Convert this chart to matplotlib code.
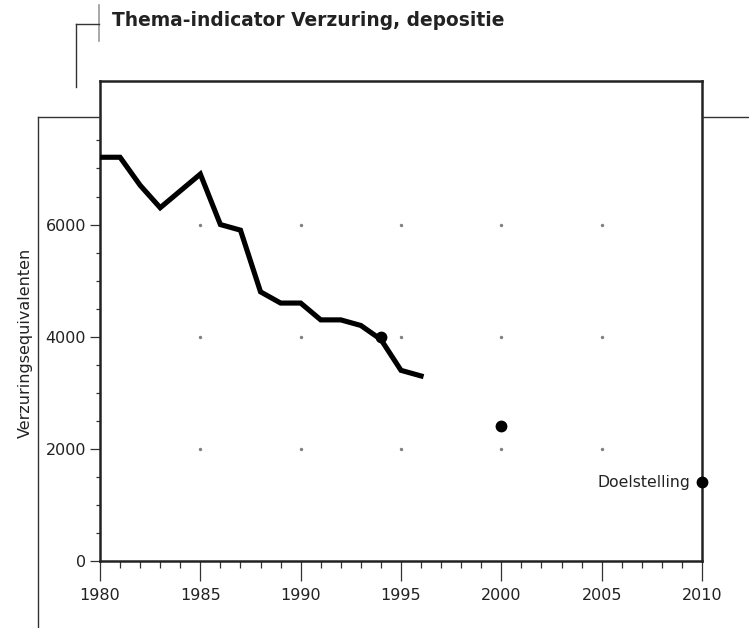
import matplotlib.pyplot as plt
from matplotlib.lines import Line2D
from matplotlib.ticker import MultipleLocator

plt.rcParams['font.family'] = ['DejaVu Sans']

# gemeten depositie
jaren = [1980, 1981, 1982, 1983, 1984, 1985, 1986, 1987, 1988, 1989, 1990,
         1991, 1992, 1993, 1994, 1995, 1996]
depositie = [7200, 7200, 6700, 6300, 6600, 6900, 6000, 5900, 4800, 4600, 4600,
             4300, 4300, 4200, 3950, 3400, 3300]

# losse punten (doelen)
doel_jaren = [1994, 2000, 2010]
doel_waarden = [4000, 2400, 1400]

grid_jaren = [1985, 1990, 1995, 2000, 2005]
grid_niveaus = [2000, 4000, 6000]

x_ticks = [1980, 1985, 1990, 1995, 2000, 2005, 2010]
y_ticks = [0, 2000, 4000, 6000]

W, H = 749, 628
fig = plt.figure(figsize=(W / 100, H / 100), dpi=100)
ax = fig.add_axes([100 / W, (H - 561) / H, 602 / W, 480 / H])


def lijn(xs, ys, kleur='#333333', lw=1.0):
    fig.add_artist(Line2D([x / W for x in xs], [1 - y / H for y in ys],
                          transform=fig.transFigure, color=kleur, lw=lw))


# decoratieve kaderlijnen
lijn([99, 99], [5, 41], kleur='#999999', lw=1.2)
lijn([76, 99], [24, 24])
lijn([76, 76], [24, 87])
lijn([38, 100], [117.5, 117.5])
lijn([38, 38], [117.5, 628])
lijn([702, 749], [117.5, 117.5])

fig.text(112 / W, 1 - 21 / H, "Thema-indicator Verzuring, depositie",
         fontsize=13.4, fontweight='bold', color='#222222', va='center', ha='left')

gx = [x for x in grid_jaren for _ in grid_niveaus]
gy = [y for _ in grid_jaren for y in grid_niveaus]
ax.scatter(gx, gy, s=6, color='#808080', zorder=2, linewidths=0)

ax.plot(jaren, depositie, color='black', lw=3.7, solid_joinstyle='miter', zorder=3)
ax.plot(doel_jaren, doel_waarden, 'o', color='black', markersize=7.5,
        linestyle='none', zorder=4, clip_on=False)
ax.text(2009.4, 1400, "Doelstelling", ha='right', va='center', fontsize=11.3,
        color='#222222')

ax.set_xlim(1980, 2010)
ax.set_ylim(0, 8560)
ax.set_xticks(x_ticks)
ax.set_yticks(y_ticks)
ax.xaxis.set_minor_locator(MultipleLocator(1))
ax.set_yticks(list(range(500, 8000, 500)), minor=True)
ax.tick_params(axis='x', which='major', length=14.5, width=0.9, pad=5,
               labelsize=11.5, color='#333333', labelcolor='#222222')
ax.tick_params(axis='x', which='minor', length=5, width=0.9, color='#333333')
ax.tick_params(axis='y', which='major', length=7, width=0.9, pad=3,
               labelsize=11.5, color='#333333', labelcolor='#222222')
ax.tick_params(axis='y', which='minor', length=3, width=0.9, color='#333333')

for s in ax.spines.values():
    s.set_linewidth(1.8)
    s.set_color('#222222')

fig.text(25 / W, 1 - 343 / H, "Verzuringsequivalenten", rotation=90,
         fontsize=11.5, color='#222222', ha='center', va='center')

fig.savefig('out.png', dpi=100)
